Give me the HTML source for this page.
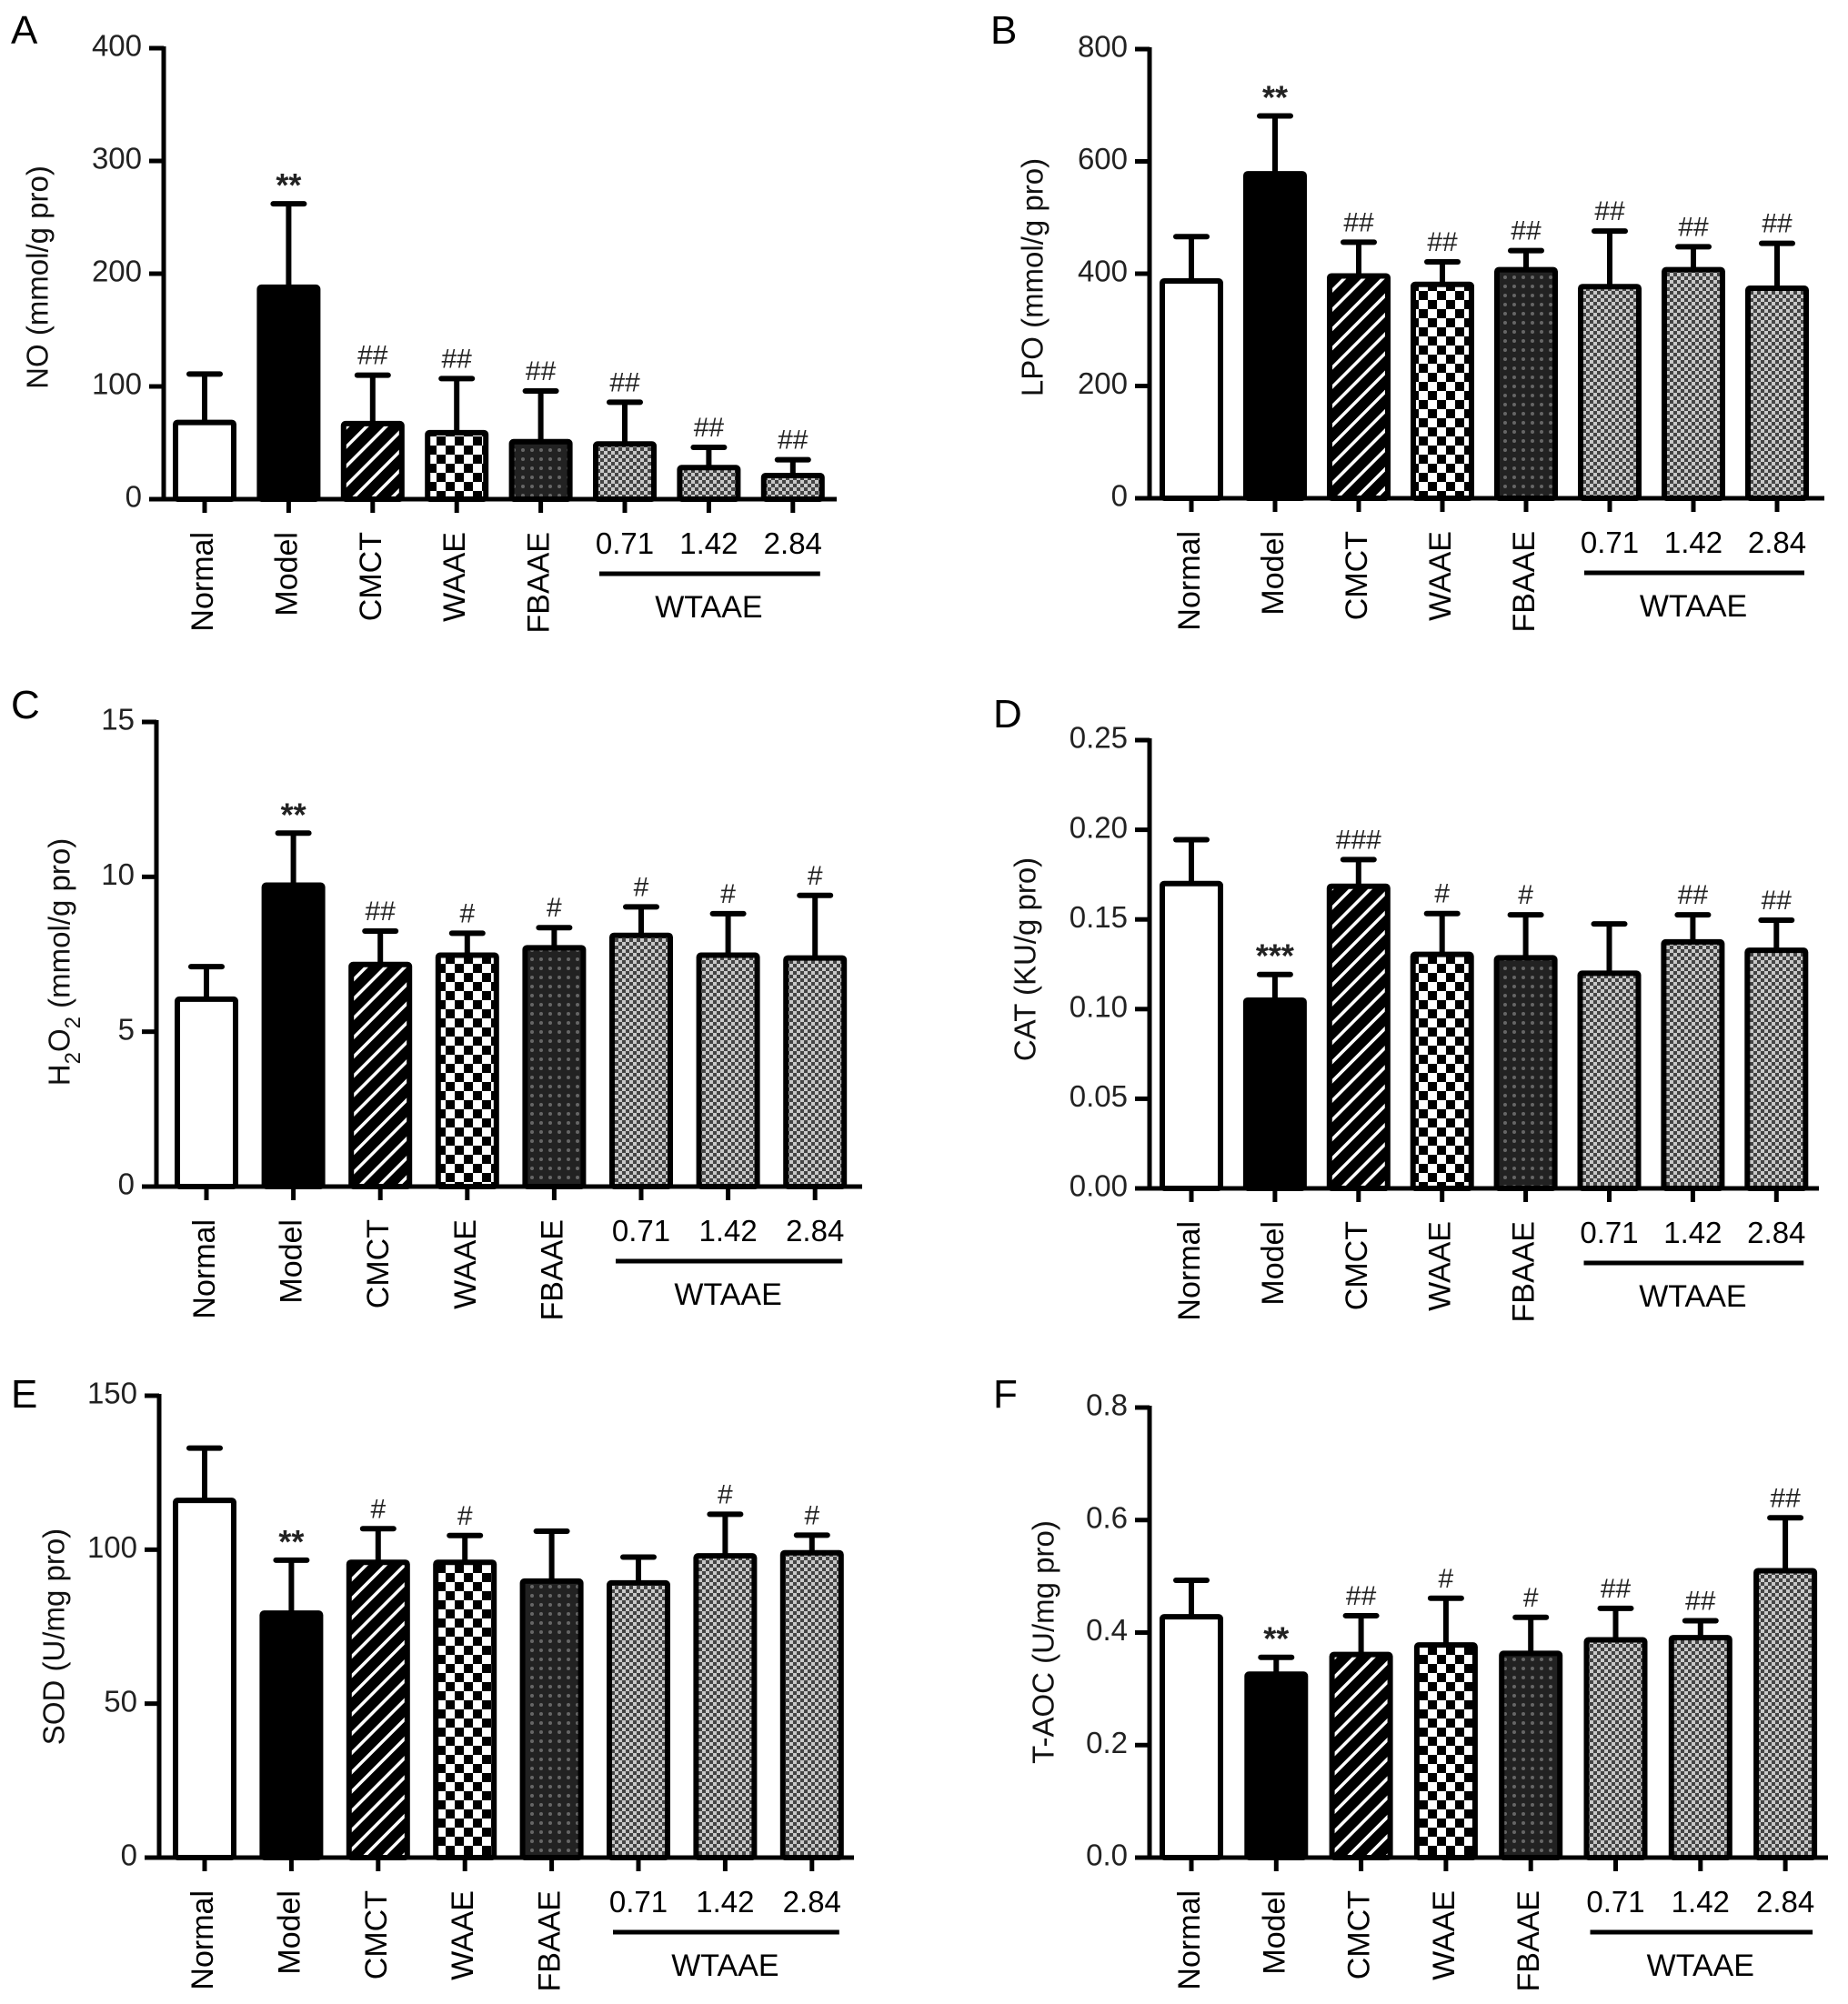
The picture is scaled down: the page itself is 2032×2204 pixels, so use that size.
<!DOCTYPE html>
<html><head><meta charset="utf-8">
<style>
html,body{margin:0;padding:0;background:#fff;}
svg{display:block;font-family:"Liberation Sans",Arial,sans-serif;}
</style></head>
<body>
<svg id="fig" width="2032" height="2204" viewBox="0 0 2032 2204" xmlns="http://www.w3.org/2000/svg">
<defs>
  <pattern id="pHatch" patternUnits="userSpaceOnUse" width="15" height="15" patternTransform="rotate(45)">
    <rect width="15" height="15" fill="#000"/>
    <rect x="0" y="0" width="3.5" height="15" fill="#fff"/>
  </pattern>
  <pattern id="pCheck" patternUnits="userSpaceOnUse" width="20" height="20">
    <rect width="20" height="20" fill="#fff"/>
    <rect width="10" height="10" fill="#000"/>
    <rect x="10" y="10" width="10" height="10" fill="#000"/>
  </pattern>
  <pattern id="pDark" patternUnits="userSpaceOnUse" width="10" height="10">
    <rect width="10" height="10" fill="#222"/>
    <circle cx="5" cy="5" r="2" fill="#666"/>
  </pattern>
  <pattern id="pGrey" patternUnits="userSpaceOnUse" width="8" height="8">
    <rect width="8" height="8" fill="#444"/>
    <rect width="4" height="4" fill="#c8c8c8"/>
    <rect x="4" y="4" width="4" height="4" fill="#c8c8c8"/>
  </pattern>
</defs>
</svg>
<script>
// ---- data ----
const categories = ["Normal","Model","CMCT","WAAE","FBAAE","0.71","1.42","2.84"];
const fills = ["#fff","#000","url(#pHatch)","url(#pCheck)","url(#pDark)","url(#pGrey)","url(#pGrey)","url(#pGrey)"];

const noMeans = [68,188,67,59,51,49,28,21];
const noErr   = [111,262,110,107,96,86,46,35];
const noMarks = ["","**","##","##","##","##","##","##"];
const noTicks = [0,100,200,300,400];

const lpoMeans = [387,578,396,381,407,377,407,374];
const lpoErr   = [466,681,456,421,441,476,448,454];
const lpoMarks = ["","**","##","##","##","##","##","##"];
const lpoTicks = [0,200,400,600,800];

const h2o2Means = [6.05,9.73,7.17,7.47,7.71,8.11,7.47,7.38];
const h2o2Err   = [7.1,11.41,8.25,8.18,8.36,9.03,8.81,9.4];
const h2o2Marks = ["","**","##","#","#","#","#","#"];
const h2o2Ticks = [0,5,10,15];

const catMeans = [0.170,0.105,0.1685,0.1305,0.1286,0.120,0.1375,0.1328];
const catErr   = [0.1945,0.1193,0.1834,0.1533,0.1526,0.1475,0.1526,0.1496];
const catMarks = ["","***","###","#","#","","##","##"];
const catTicks = [0,0.05,0.10,0.15,0.20,0.25];
const catTickLabels = ["0.00","0.05","0.10","0.15","0.20","0.25"];

const sodMeans = [116,79.4,95.9,95.9,89.8,89.2,98,99];
const sodErr   = [133,96.6,106.8,104.6,106,97.6,111.5,104.7];
const sodMarks = ["","**","#","#","","","#","#"];
const sodTicks = [0,50,100,150];

const taocMeans = [0.428,0.326,0.361,0.378,0.363,0.387,0.391,0.51];
const taocErr   = [0.493,0.356,0.43,0.461,0.427,0.443,0.421,0.604];
const taocMarks = ["","**","##","#","#","##","##","##"];
const taocTicks = [0,0.2,0.4,0.6,0.8];
const taocTickLabels = ["0.0","0.2","0.4","0.6","0.8"];

const panels = [
 {id:"a",letter:"A",lx:12,ly:48,ax:180,xEnd:920,y0:549,yTop:53,max:400,c0:225,step:92.4,tx:44,ty:305,
  title:'NO (mmol/g pro)',means:noMeans,err:noErr,marks:noMarks,ticks:noTicks,labels:null},
 {id:"b",letter:"B",lx:1089,ly:48,ax:1264,xEnd:2006,y0:548,yTop:54,max:800,c0:1310,step:92,tx:1138,ty:305,
  title:'LPO (mmol/g pro)',means:lpoMeans,err:lpoErr,marks:lpoMarks,ticks:lpoTicks,labels:null},
 {id:"c",letter:"C",lx:12,ly:790,ax:172,xEnd:948,y0:1305,yTop:794,max:15,c0:227,step:95.6,tx:68,ty:1058,
  title:'H<tspan baseline-shift="sub" font-size="24">2</tspan>O<tspan baseline-shift="sub" font-size="24">2</tspan> (mmol/g pro)',means:h2o2Means,err:h2o2Err,marks:h2o2Marks,ticks:h2o2Ticks,labels:null},
 {id:"d",letter:"D",lx:1092,ly:800,ax:1264,xEnd:2000,y0:1307,yTop:814,max:0.25,c0:1310,step:91.9,tx:1130,ty:1055,
  title:'CAT (KU/g pro)',means:catMeans,err:catErr,marks:catMarks,ticks:catTicks,labels:catTickLabels},
 {id:"e",letter:"E",lx:12,ly:1548,ax:175,xEnd:939,y0:2043,yTop:1535,max:150,c0:225,step:95.4,tx:62,ty:1800,
  title:'SOD (U/mg pro)',means:sodMeans,err:sodErr,marks:sodMarks,ticks:sodTicks,labels:null},
 {id:"f",letter:"F",lx:1092,ly:1548,ax:1264,xEnd:2010,y0:2043,yTop:1548,max:0.8,c0:1310,step:93.3,tx:1150,ty:1806,
  title:'T-AOC (U/mg pro)',means:taocMeans,err:taocErr,marks:taocMarks,ticks:taocTicks,labels:taocTickLabels}
];

const NS = "http://www.w3.org/2000/svg";
const svg = document.getElementById("fig");
function mk(tag, attrs, parent){
  const e = document.createElementNS(NS, tag);
  for (const k in attrs) e.setAttribute(k, attrs[k]);
  (parent||svg).appendChild(e);
  return e;
}

panels.forEach(p => {
  const g = mk("g", {});
  
  
  const yScale = v => p.y0 - (v / p.max) * (p.y0 - p.yTop);
  const xScale = i => p.c0 + i * p.step;

  const L = mk("text", {x:p.lx, y:p.ly, "font-size":44, fill:"#000"}, g);
  L.textContent = p.letter;
  
  

  const T = mk("text", {x:p.tx, y:p.ty, "font-size":33, "text-anchor":"middle", fill:"#111",
    transform:`rotate(-90 ${p.tx} ${p.ty})`, "dominant-baseline":"middle"}, g);
  T.innerHTML = p.title;
  
  

  p.means.forEach((v, i) => {
    const cx = xScale(i), bw = 64;
    const top = yScale(v), et = yScale(p.err[i]);
    const eb = mk("line", {x1:cx, x2:cx, y1:top, y2:et, stroke:"#000", "stroke-width":6}, g);
    
    
    const cap = mk("line", {x1:cx-17, x2:cx+17, y1:et, y2:et, stroke:"#000", "stroke-width":6, "stroke-linecap":"round"}, g);
    
    
    const r = mk("rect", {x:cx-bw/2, y:top, width:bw, height:p.y0-top, fill:fills[i], stroke:"#000", "stroke-width":6, rx:2}, g);
    
    
    if (p.marks[i]) {
      const star = p.marks[i].indexOf('*') >= 0;
      const m = mk("text", {x:cx, y:star ? et-8 : et-12, "font-size":star ? 36 : 30, "font-weight":star ? "bold" : "normal",
        "text-anchor":"middle", fill:"#222"}, g);
      m.textContent = p.marks[i];
      
      
    }
    const tk = mk("line", {x1:cx, x2:cx, y1:p.y0, y2:p.y0+15, stroke:"#000", "stroke-width":5}, g);
    
    
    if (i < 5) {
      const ly = p.y0 + 36;
      const t = mk("text", {x:cx, y:ly, "font-size":34, "text-anchor":"end", "dominant-baseline":"middle",
        transform:`rotate(-90 ${cx} ${ly})`, fill:"#000"}, g);
      t.textContent = categories[i];
      
      
    } else {
      const t = mk("text", {x:cx, y:p.y0+60, "font-size":33, "text-anchor":"middle", fill:"#000"}, g);
      t.textContent = categories[i];
      
      
    }
  });

  const gx1 = xScale(5) - 28, gx2 = xScale(7) + 30;
  const br = mk("line", {x1:gx1, x2:gx2, y1:p.y0+82, y2:p.y0+82, stroke:"#000", "stroke-width":5}, g);
  
  
  const gt = mk("text", {x:(xScale(5)+xScale(7))/2, y:p.y0+130, "font-size":34, "text-anchor":"middle", fill:"#000"}, g);
  gt.textContent = "WTAAE";
  
  

  const ya = mk("line", {x1:p.ax, x2:p.ax, y1:p.yTop-2, y2:p.y0+2, stroke:"#000", "stroke-width":5}, g);
  
  
  const xa = mk("line", {x1:p.ax-14, x2:p.xEnd, y1:p.y0, y2:p.y0, stroke:"#000", "stroke-width":5}, g);
  
  
  p.ticks.forEach((v, k) => {
    const y = yScale(v);
    const tl = mk("line", {x1:p.ax-16, x2:p.ax, y1:y, y2:y, stroke:"#000", "stroke-width":5}, g);
    
    
    const tt = mk("text", {x:p.ax-24, y:y, "font-size":33, "text-anchor":"end", "dominant-baseline":"middle", fill:"#222"}, g);
    tt.textContent = p.labels ? p.labels[k] : String(v);
    
    
  });
});
</script>
</body></html>
